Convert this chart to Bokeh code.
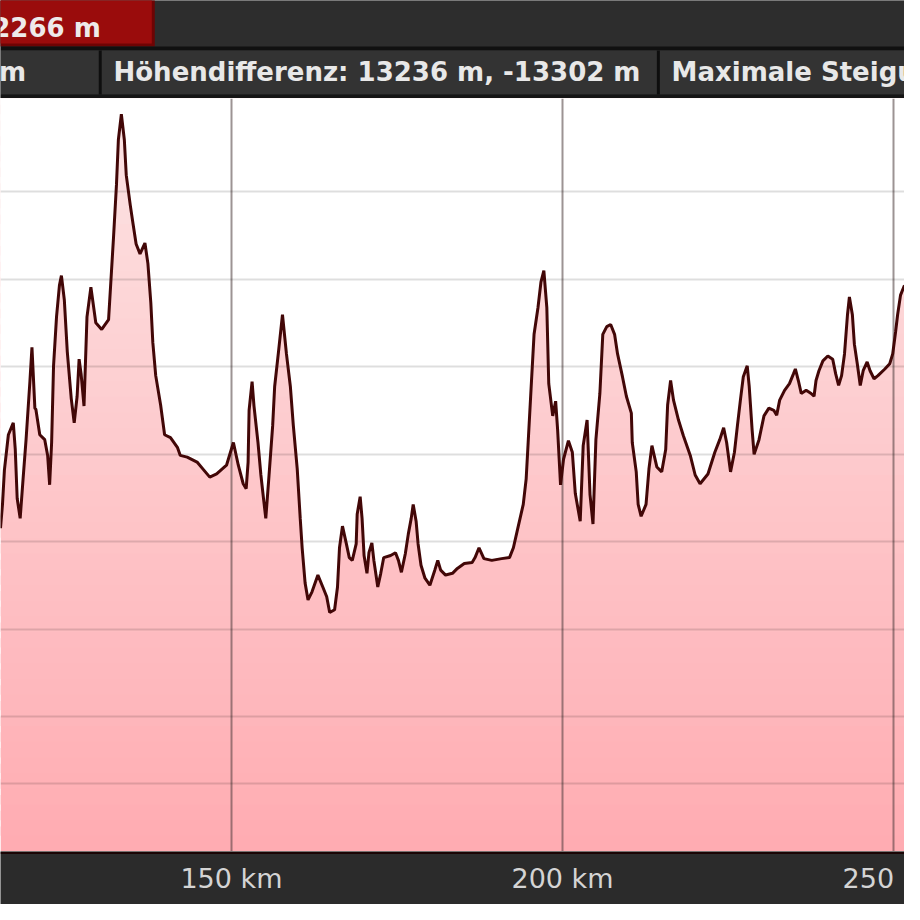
import numpy as np
from bokeh.plotting import figure
from bokeh.models import Range1d, FixedTicker
from bokeh.layouts import column
from bokeh.core.properties import value
from bokeh.embed import file_html
from bokeh.resources import INLINE

# ---------------- data ----------------
km = [115.13, 115.43, 115.72, 116.32, 117.06, 117.36, 117.65, 118.10, 118.54, 118.99,
      119.58, 119.88, 120.32, 120.47, 121.06, 121.81, 122.25, 122.55, 122.85, 123.14,
      123.59, 124.03, 124.33, 124.77, 125.22, 125.81, 126.26, 126.70, 127.00, 127.30,
      127.74, 128.19, 128.78, 129.52, 130.41, 131.45, 132.19, 132.64, 132.93, 133.38,
      133.83, 134.12, 134.72, 135.16, 135.61, 136.20, 136.94, 137.39, 137.83, 138.13,
      138.57, 139.31, 139.91, 140.80, 141.84, 142.28, 143.32, 144.81, 145.84, 146.73,
      147.77, 149.26, 150.30, 151.04, 151.78, 152.23, 152.52, 152.67, 153.12, 153.41,
      154.01, 154.45, 154.90, 155.19, 155.64, 156.23, 156.53, 157.12, 157.71, 158.31,
      158.90, 159.35, 159.94, 160.39, 160.68, 161.13, 161.57, 162.17, 163.06, 163.80,
      164.39, 164.84, 165.58, 166.02, 166.32, 166.77, 167.36, 167.80, 168.25, 168.84,
      168.99, 169.44, 169.73, 170.03, 170.47, 170.77, 171.21, 171.51, 172.10, 172.55,
      173.00, 174.04, 174.78, 175.22, 175.67, 176.26, 176.71, 177.15, 177.45, 177.89,
      178.19, 178.63, 179.23, 179.97, 180.71, 181.16, 181.60, 182.34, 183.38, 184.12,
      185.16, 186.35, 186.79, 187.39, 188.13, 189.32, 190.80, 191.99, 192.58, 193.32,
      194.07, 194.51, 194.81, 195.25, 195.70, 196.29, 196.74, 197.18, 197.63, 197.92,
      198.52, 198.96, 199.26, 199.70, 200.15, 200.89, 201.48, 201.93, 202.67, 203.12,
      203.71, 204.15, 204.60, 205.04, 205.64, 206.08, 206.68, 207.27, 207.86, 208.31,
      209.05, 209.64, 210.39, 210.53, 211.13, 211.42, 211.87, 212.61, 213.05, 213.50,
      214.24, 214.98, 215.58, 215.87, 216.32, 216.76, 217.51, 218.25, 219.29, 220.03,
      220.77, 221.96, 223.00, 223.74, 224.33, 224.78, 225.37, 225.96, 226.41, 226.86,
      227.30, 227.89, 228.19, 228.63, 228.93, 229.67, 230.42, 231.16, 231.90, 232.34,
      232.79, 233.53, 234.27, 234.87, 235.16, 235.61, 236.05, 236.79, 237.54, 237.98,
      238.28, 238.72, 239.32, 240.06, 240.80, 241.25, 241.69, 242.14, 242.58, 243.03,
      243.32, 243.77, 244.07, 244.51, 244.96, 245.40, 246.00, 246.44, 247.04, 247.63,
      248.67, 249.41, 249.86, 250.30, 250.60, 251.04, 251.64]

elev = [1039, 1107, 1205, 1306, 1340, 1264, 1124, 1067, 1180, 1292,
        1461, 1556, 1382, 1379, 1306, 1292, 1247, 1163, 1284, 1503,
        1643, 1733, 1761, 1691, 1542, 1410, 1340, 1416, 1522, 1480,
        1388, 1643, 1728, 1626, 1607, 1635, 1868, 2020, 2149, 2222,
        2149, 2048, 1963, 1907, 1851, 1823, 1854, 1795, 1683, 1570,
        1475, 1391, 1306, 1298, 1270, 1247, 1242, 1228, 1205, 1185,
        1194, 1219, 1284, 1219, 1166, 1152, 1228, 1376, 1458, 1388,
        1284, 1191, 1115, 1067, 1180, 1332, 1444, 1545, 1649, 1537,
        1444, 1332, 1208, 1067, 983, 882, 834, 857, 905, 871,
        843, 798, 806, 871, 983, 1045, 994, 955, 947, 994,
        1079, 1129, 1067, 961, 910, 969, 997, 947, 871, 910,
        955, 961, 969, 947, 913, 966, 1022, 1067, 1107, 1059,
        994, 933, 896, 876, 919, 947, 919, 905, 910, 924,
        938, 941, 955, 983, 952, 947, 952, 955, 983, 1045,
        1107, 1180, 1284, 1438, 1593, 1669, 1742, 1775, 1669, 1452,
        1360, 1402, 1320, 1163, 1236, 1289, 1256, 1138, 1059, 1275,
        1348, 1135, 1051, 1292, 1424, 1593, 1615, 1621, 1593, 1537,
        1472, 1416, 1368, 1284, 1200, 1107, 1073, 1107, 1208, 1275,
        1214, 1200, 1264, 1391, 1461, 1405, 1348, 1303, 1247, 1191,
        1166, 1194, 1256, 1292, 1326, 1284, 1200, 1256, 1332, 1405,
        1472, 1503, 1444, 1320, 1250, 1292, 1360, 1382, 1376, 1362,
        1405, 1433, 1452, 1480, 1494, 1461, 1424, 1433, 1424, 1416,
        1461, 1489, 1517, 1531, 1522, 1480, 1447, 1475, 1537, 1649,
        1700, 1649, 1565, 1509, 1447, 1489, 1514, 1489, 1466, 1475,
        1494, 1509, 1537, 1601, 1649, 1705, 1733]

tick_km = [150, 200, 250]
tick_labels = ["150 km", "200 km", "250 km"]
grid_elev = [310, 500, 750, 1000, 1250, 1500, 1750, 2000]
km_min, km_max = 115.13, 251.64
elev_min, elev_max = 115, 2267

cell_first = "m"
max_label = "2266 m"
diff_label = "Höhendifferenz: 13236 m, -13302 m"
slope_label = "Maximale Steigung"

# ---------------- layout ----------------
W = 904
FONT = value("DejaVu Sans")

def bare(fig, bg):
    fig.axis.visible = False
    fig.grid.visible = False
    fig.outline_line_color = None
    fig.background_fill_color = bg
    fig.border_fill_color = bg

# header (reference-pixel space, y downwards)
h = figure(width=W, height=98, x_range=Range1d(0, 920), y_range=Range1d(100, 0),
           output_backend="svg", toolbar_location=None, min_border=0)
bare(h, "#2c2c2c")
h.quad(left=0, right=920, top=0, bottom=47, fill_color="#2d2d2d", line_color=None)
h.quad(left=-5, right=157, top=-5, bottom=47, fill_color="#6e0404", line_color=None)
h.quad(left=-5, right=154, top=-5, bottom=44, fill_color="#9a0c0c", line_color=None)
h.quad(left=0, right=920, top=47, bottom=51, fill_color="#101010", line_color=None)
h.quad(left=0, right=920, top=51, bottom=96, fill_color="#333333", line_color=None)
h.quad(left=0, right=920, top=96, bottom=100, fill_color="#151515", line_color=None)
h.quad(left=[100, 668], right=[103, 671], top=51, bottom=96, fill_color="#0e0e0e", line_color=None)

h.text(x=[102], y=[28], text=[max_label], text_align="right", text_baseline="alphabetic",
       text_font=FONT, text_font_style="bold", text_font_size="26px", text_color="#eeeaea")
h.text(x=[26, 115, 683], y=[73, 73, 73], text=[cell_first, diff_label, slope_label],
       text_align=["right", "left", "left"], text_baseline="alphabetic",
       text_font=FONT, text_font_style="bold", text_font_size="26px", text_color="#e8e8e8")

# main profile
p = figure(width=W, height=753, x_range=Range1d(km_min, km_max), y_range=Range1d(elev_min, elev_max),
           output_backend="svg", toolbar_location=None, min_border=0)
p.outline_line_color = None
p.background_fill_color = "white"
p.border_fill_color = "white"
p.axis.visible = False

# vertical pink gradient under the profile
n = 48
edges = np.linspace(elev_min, elev_max, n + 1)
t = np.linspace(0, 1, n)  # 0 bottom -> 1 top
bot = np.array([255, 172, 178])
top = np.array([252, 228, 228])
cols = ["#%02x%02x%02x" % tuple(int(round(c)) for c in bot + (top - bot) * ti) for ti in t]
overlap = (elev_max - elev_min) / n * 0.6
p.quad(left=km_min, right=km_max, bottom=edges[:-1], top=edges[1:] + overlap, fill_color=cols,
       line_color=None, level="image")
p.varea(x=km, y1=elev, y2=elev_max + 50, fill_color="white", level="image")

p.line(km, elev, line_color="#420707", line_width=3)

p.ygrid.visible = True
p.xgrid.visible = True
p.ygrid.ticker = FixedTicker(ticks=grid_elev)
p.ygrid.grid_line_color = "black"
p.ygrid.grid_line_alpha = 0.13
p.ygrid.grid_line_width = 2
p.xgrid.ticker = FixedTicker(ticks=tick_km)
p.xgrid.grid_line_color = "#4a3a3a"
p.xgrid.grid_line_alpha = 0.55
p.xgrid.grid_line_width = 2

# footer with km labels (shares the km range)
f = figure(width=W, height=53, x_range=p.x_range, y_range=Range1d(54, 0),
           output_backend="svg", toolbar_location=None, min_border=0)
bare(f, "#2b2b2b")
f.quad(left=km_min, right=km_max, top=0, bottom=2.5, fill_color="#1a0404", line_color=None)
f.text(x=tick_km, y=[27] * len(tick_km), text=tick_labels, text_align="center",
       text_baseline="alphabetic", text_font=FONT, text_font_size="27px", text_color="#d4d4d4")

layout = column(h, p, f, spacing=0)
open("out.html", "w").write(file_html(layout, INLINE))
